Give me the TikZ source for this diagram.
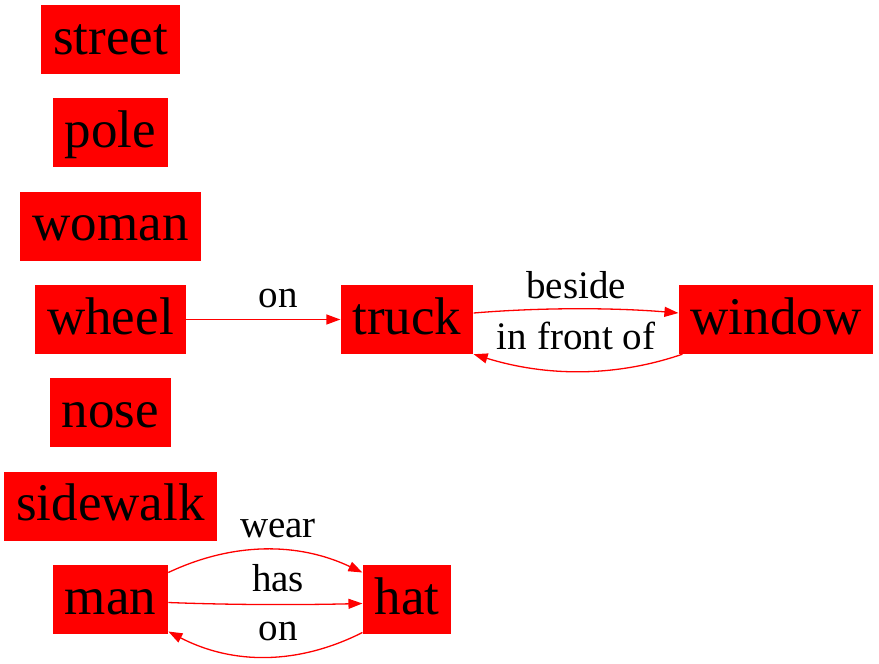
\documentclass[tikz,border=0pt]{standalone}
\usepackage{fontspec}
\setmainfont{Liberation Serif}
\usetikzlibrary{arrows.meta}
\begin{document}
\begin{tikzpicture}[x=1pt,y=-1pt,
  obj/.style={fill=red, draw=none, inner xsep=12pt, inner ysep=0pt, minimum height=69pt,
    font=\fontsize{53}{60}\selectfont, text height=40pt, text depth=10.6pt},
  lbl/.style={font=\fontsize{39}{44}\selectfont, anchor=base, inner sep=0pt},
  rel/.style={draw=red, line width=1.3pt, -{Triangle[length=14pt,width=10pt]}}]
\useasboundingbox (0,0) rectangle (879,664);
\node[obj] (street) at (110.5,39.5) {street};
\node[obj] (pole) at (110.5,132.5) {pole};
\node[obj] (woman) at (110.5,226) {woman};
\node[obj] (wheel) at (110.5,319.5) {wheel};
\node[obj] (nose) at (110.5,412.5) {nose};
\node[obj] (sidewalk) at (110.5,506) {sidewalk};
\node[obj] (man) at (110.5,599.5) {man};
\node[obj] (truck) at (407,319.5) {truck};
\node[obj] (window) at (776,319.5) {window};
\node[obj] (hat) at (407,599.5) {hat};
% edges
\draw[rel] (wheel.east) -- (truck.west);
\node[lbl] (l1) at (278,307) {on};
\draw[rel] ([yshift=6.5pt]truck.east) .. controls (540,307.5) and (612,307.5) .. ([yshift=6.5pt]window.west);
\node[lbl] (l2) at (576,298) {beside};
\draw[rel] ([xshift=4pt]window.south west) .. controls (613,378) and (544,376) .. (truck.south east);
\node[lbl] (l3) at (576,349) {in front of};
\draw[rel] ([yshift=27pt]man.east) .. controls (233,542) and (298,542) .. ([yshift=27pt]hat.west);
\node[lbl] (l4) at (278,537) {wear};
\draw[rel] ([yshift=-3pt]man.east) .. controls (233,605) and (298,605) .. ([yshift=-4pt]hat.west);
\node[lbl] (l5) at (278,591) {has};
\draw[rel] ([yshift=-33pt]hat.west) .. controls (298,665) and (233,665) .. ([yshift=-32pt]man.east);
\node[lbl] (l6) at (278,640) {on};
\end{tikzpicture}
\end{document}
